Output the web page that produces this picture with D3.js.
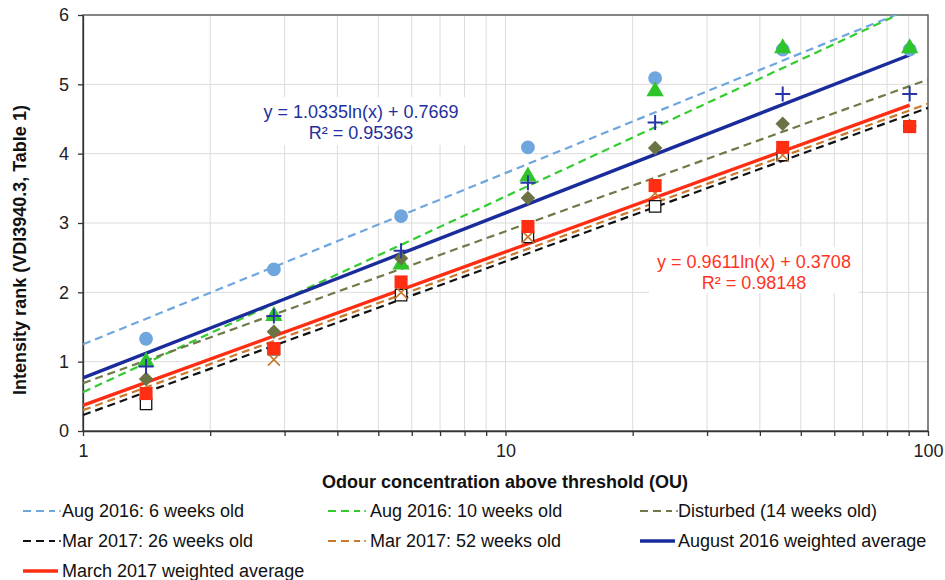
<!DOCTYPE html>
<html lang="en">
<head>
  <meta charset="UTF-8">
  <title>Odour intensity vs concentration</title>
  <style>
    body { margin: 0; background: #fff; }
    svg { font-family: "Liberation Sans", Arial, Helvetica, sans-serif; }
    .grid line { stroke: #dcdcdc; stroke-width: 1; }
    .axis path, .axis line { stroke: #333; stroke-width: 1.3; }
    .axis text { font-size: 18px; fill: #222; }
    .title { font-size: 18px; font-weight: bold; fill: #111; }
    .legend text { font-size: 18px; fill: #111; }
    .eq { font-size: 18px; }
  </style>
</head>
<body>
<script src="https://d3js.org/d3.v7.min.js"></script>
<script>
// odour concentration of each dilution step (OU)
const conc = [1.41, 2.83, 5.66, 11.3, 22.6, 45.3, 90.5]

// intensity rank per sample
const aug6wk = [1.33, 2.33, 3.10, 4.09, 5.09, 5.50, 5.50]
const aug10wk = [1.00, 1.66, 2.40, 3.67, 4.90, 5.52, 5.52]
const disturbed = [0.75, 1.43, 2.49, 3.36, 4.08, 4.43, 4.40]
const mar26wk = [0.39, 1.18, 1.96, 2.80, 3.24, 3.98, 4.39]
const mar52wk = [0.55, 1.03, 2.00, 2.80, 3.43, 3.98, 4.39]
const augAvg = [0.93, 1.66, 2.60, 3.58, 4.45, 4.86, 4.86]
const marAvg = [0.54, 1.19, 2.15, 2.95, 3.54, 4.09, 4.39]

// log trendlines y = a*ln(x) + b
const trendNames = ['Aug 2016: 6 weeks old', 'Aug 2016: 10 weeks old', 'Disturbed (14 weeks old)',
  'Mar 2017: 26 weeks old', 'Mar 2017: 52 weeks old', 'August 2016 weighted average', 'March 2017 weighted average']
const trendSlope = [1.073, 1.226, 0.951, 0.962, 0.960, 1.0335, 0.9611]
const trendIntercept = [1.25, 0.56, 0.69, 0.23, 0.30, 0.7669, 0.3708]
const trendEnd = [100, 100, 100, 100, 100, 90.5, 90.5]
const trendColor = ['#6fa6de', '#33cc2e', '#6e7b48', '#111111', '#c8792c', '#1a2c9c', '#ff2d12']
const trendDashed = [true, true, true, true, true, false, false]

const yTicks = [0, 1, 2, 3, 4, 5, 6]
const xTicks = [1, 2, 3, 4, 5, 6, 7, 8, 9, 10, 20, 30, 40, 50, 60, 70, 80, 90, 100]
const xLabels = [1, 10, 100]

const width = 945, height = 580
const plot = { left: 83, right: 928, top: 15, bottom: 431 }

const svg = d3.select('body').append('svg')
  .attr('width', width)
  .attr('height', height)

const x = d3.scaleLog().domain([1, 100]).range([plot.left, plot.right])
const y = d3.scaleLinear().domain([0, 6]).range([plot.bottom, plot.top])

svg.append('clipPath').attr('id', 'plotclip')
  .append('rect')
  .attr('x', plot.left).attr('y', plot.top)
  .attr('width', plot.right - plot.left).attr('height', plot.bottom - plot.top)

// gridlines
const grid = svg.append('g').attr('class', 'grid')
grid.selectAll('.h').data(yTicks.slice(1, -1)).join('line')
  .attr('x1', plot.left).attr('x2', plot.right)
  .attr('y1', d => y(d)).attr('y2', d => y(d))
grid.selectAll('.v').data(xTicks.slice(1, -1)).join('line')
  .attr('x1', d => x(d)).attr('x2', d => x(d))
  .attr('y1', plot.top).attr('y2', plot.bottom)

// equation label backgrounds hide the grid
svg.append('rect').attr('x', 256).attr('y', 97).attr('width', 210).attr('height', 48).attr('fill', '#fff')
svg.append('rect').attr('x', 649).attr('y', 247).attr('width', 210).attr('height', 46).attr('fill', '#fff')

// frame
svg.append('rect')
  .attr('x', plot.left).attr('y', plot.top)
  .attr('width', plot.right - plot.left).attr('height', plot.bottom - plot.top)
  .attr('fill', 'none').attr('stroke', '#5c5c5c').attr('stroke-width', 1.5)

svg.append('g')
  .attr('class', 'axis')
  .attr('transform', `translate(0,${plot.bottom})`)
  .call(d3.axisBottom(x).tickValues(xTicks).tickSize(5).tickSizeOuter(0).tickPadding(8)
    .tickFormat(d => xLabels.includes(d) ? d : ''))

svg.append('g')
  .attr('class', 'axis')
  .attr('transform', `translate(${plot.left},0)`)
  .call(d3.axisLeft(y).tickValues(yTicks).tickSize(5).tickSizeOuter(0).tickPadding(9)
    .tickFormat(d3.format('d')))

// trendlines (straight on a log x axis)
const lines = svg.append('g').attr('clip-path', 'url(#plotclip)')
trendNames.forEach((name, i) => {
  const ends = [1, trendEnd[i]]
  const line = d3.line()
    .x(d => x(d))
    .y(d => y(trendSlope[i] * Math.log(d) + trendIntercept[i]))
  lines.append('path')
    .attr('d', line(ends))
    .attr('fill', 'none')
    .attr('stroke', trendColor[i])
    .attr('stroke-width', trendDashed[i] ? 2.2 : 3.4)
    .attr('stroke-dasharray', trendDashed[i] ? '8,5' : null)
})

// markers
const markerSets = [
  { values: aug6wk, symbol: d3.symbolCircle, size: 150, fill: '#6fa6de', stroke: 'none' },
  { values: aug10wk, symbol: d3.symbolTriangle, size: 130, fill: '#2ec52a', stroke: 'none' },
  { values: disturbed, symbol: d3.symbolSquare, size: 105, fill: '#6b7345', stroke: 'none', rotate: 45 },
  { values: mar26wk, symbol: d3.symbolSquare, size: 130, fill: '#fff', stroke: '#111', sw: 1.3 },
  { values: mar52wk, symbol: d3.symbolTimes, size: 95, fill: 'none', stroke: '#c8792c', sw: 1.6 },
  { values: augAvg, symbol: d3.symbolPlus, size: 75, fill: 'none', stroke: '#2636a8', sw: 2 },
  { values: marAvg, symbol: d3.symbolSquare, size: 170, fill: '#ff2d12', stroke: 'none' }
]
markerSets.forEach(m => {
  svg.append('g').selectAll('path').data(m.values).join('path')
    .attr('transform', (d, j) => `translate(${x(conc[j])},${y(d)})` + (m.rotate ? ` rotate(${m.rotate})` : ''))
    .attr('d', d3.symbol(m.symbol, m.size))
    .attr('fill', m.fill)
    .attr('stroke', m.stroke)
    .attr('stroke-width', m.sw || 0)
})

// equations
const eq = [
  { lines: ['y = 1.0335ln(x) + 0.7669', 'R\u00b2 = 0.95363'], cx: 361, cy: 118, color: '#1f2f9e' },
  { lines: ['y = 0.9611ln(x) + 0.3708', 'R\u00b2 = 0.98148'], cx: 754, cy: 268, color: '#ff3322' }
]
eq.forEach(e => {
  e.lines.forEach((t, k) => {
    svg.append('text').attr('class', 'eq')
      .attr('x', e.cx).attr('y', e.cy + k * 21)
      .attr('text-anchor', 'middle').attr('fill', e.color)
      .text(t)
  })
})

// axis titles
svg.append('text').attr('class', 'title')
  .attr('x', 505).attr('y', 488)
  .attr('text-anchor', 'middle')
  .text('Odour concentration above threshold (OU)')

svg.append('text').attr('class', 'title')
  .attr('transform', 'translate(26,250) rotate(-90)')
  .attr('text-anchor', 'middle')
  .text('Intensity rank (VDI3940.3, Table 1)')

// legend
const colX = [23, 328, 640]
const textX = [62, 370, 678]
const rowY = [511, 541, 571]
const legend = svg.append('g').attr('class', 'legend')
trendNames.forEach((name, i) => {
  const c = i % 3, r = Math.floor(i / 3)
  const g = legend.append('g')
  g.append('line')
    .attr('x1', colX[c]).attr('x2', colX[c] + (trendDashed[i] ? 32 : 35))
    .attr('y1', rowY[r]).attr('y2', rowY[r])
    .attr('stroke', trendColor[i])
    .attr('stroke-width', trendDashed[i] ? 2.2 : 3.4)
    .attr('stroke-dasharray', trendDashed[i] ? '8,5' : null)
  if (trendDashed[i]) {
    g.append('circle').attr('cx', colX[c] + 37).attr('cy', rowY[r]).attr('r', 1)
      .attr('fill', trendColor[i])
  }
  g.append('text')
    .attr('x', textX[c]).attr('y', rowY[r] + 6)
    .text(name)
})
</script>
</body>
</html>
